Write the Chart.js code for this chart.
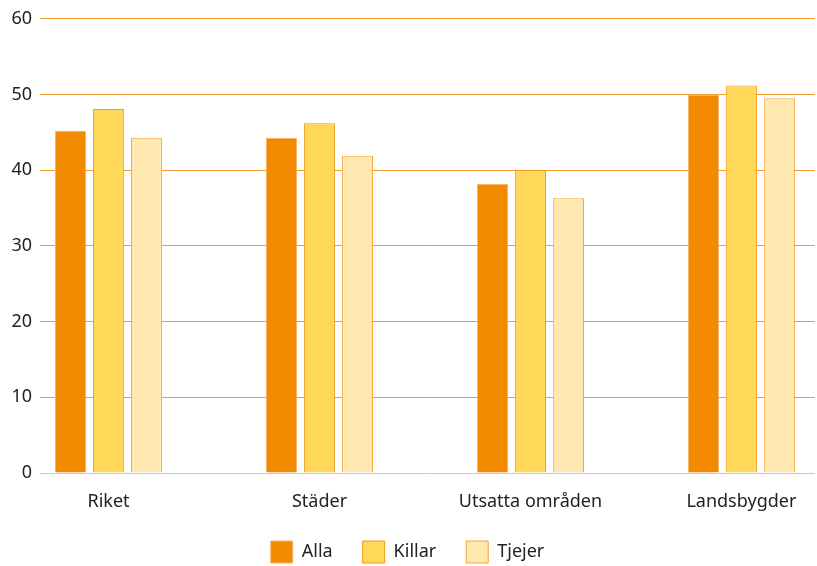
<!DOCTYPE html>
<html>
<head>
    <meta charset="utf-8">
    <title>Andel per område</title>
    <script src="https://cdn.jsdelivr.net/npm/chart.js"></script>
    <style>
        body { margin: 0; background: #fff; }
        #wrap { width: 817px; height: 566px; }
    </style>
</head>
<body>
    <div id="wrap">
        <canvas id="myChart"></canvas>
    </div>
    <script>
        const categories = ['Riket', 'Städer', 'Utsatta områden', 'Landsbygder'];
        const alla = [45.2, 44.3, 38.2, 50.0];
        const killar = [48.1, 46.2, 40.0, 51.2];
        const tjejer = [44.3, 41.9, 36.3, 49.5];

        const textColor = '#222';
        const fontFamily = '"Noto Sans", sans-serif';

        // bars sit on a linear x axis so the groups can be placed like the original
        function toPoints(values) {
            return values.map((v, i) => ({ x: i, y: v }));
        }

        const ctx = document.getElementById('myChart').getContext('2d');
        const myChart = new Chart(ctx, {
            type: 'bar',
            data: {
                datasets: [
                    {
                        label: 'Alla',
                        data: toPoints(alla),
                        backgroundColor: '#F28A00',
                        borderColor: '#F7B46A',
                        borderWidth: 1
                    },
                    {
                        label: 'Killar',
                        data: toPoints(killar),
                        backgroundColor: '#FFD759',
                        borderColor: '#F59A1E',
                        borderWidth: 1
                    },
                    {
                        label: 'Tjejer',
                        data: toPoints(tjejer),
                        backgroundColor: '#FFE9B0',
                        borderColor: '#F5A636',
                        borderWidth: 1
                    }
                ]
            },
            options: {
                responsive: true,
                maintainAspectRatio: false,
                animation: false,
                categoryPercentage: 0.54,
                barPercentage: 0.82,
                layout: {
                    padding: { top: 10, right: 2, left: 0, bottom: 0 }
                },
                plugins: {
                    tooltip: { enabled: false },
                    legend: {
                        position: 'bottom',
                        maxHeight: 55,
                        labels: {
                            boxWidth: 22,
                            boxHeight: 22,
                            padding: 30,
                            color: textColor,
                            font: { family: fontFamily, size: 18 }
                        }
                    }
                },
                scales: {
                    x: {
                        type: 'linear',
                        offset: false,
                        min: -0.325,
                        max: 3.349,
                        afterFit: (scale) => { scale.height = 38; },
                        grid: { display: false },
                        border: { display: false },
                        afterBuildTicks: (scale) => {
                            scale.ticks = categories.map((c, i) => ({ value: i }));
                        },
                        ticks: {
                            color: textColor,
                            padding: 10,
                            maxRotation: 0,
                            font: { family: fontFamily, size: 18 },
                            callback: (v) => categories[v]
                        }
                    },
                    y: {
                        min: 0,
                        max: 60,
                        afterFit: (scale) => { scale.width = 40; },
                        grid: {
                            color: (c) => c.tick && c.tick.value === 0 ? '#F8BE7C' : '#F29A2E',
                            drawTicks: false
                        },
                        border: { display: false },
                        ticks: {
                            stepSize: 10,
                            padding: 8,
                            color: textColor,
                            font: { family: fontFamily, size: 18 }
                        }
                    }
                }
            }
        });
    </script>
</body>
</html>
